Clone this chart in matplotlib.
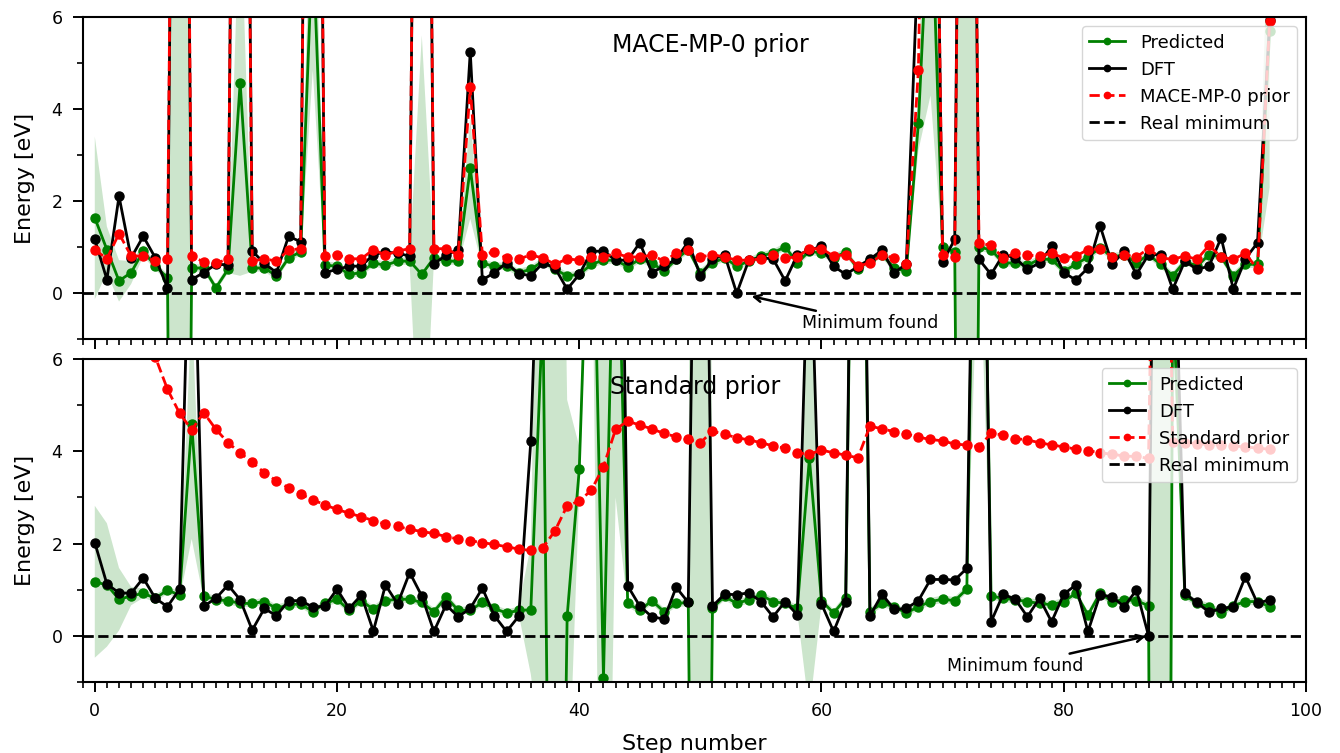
import matplotlib
matplotlib.use("Agg")
import matplotlib.pyplot as plt
import numpy as np
from matplotlib.ticker import MultipleLocator

steps = np.arange(98)

# ---- top panel: MACE-MP-0 prior ----
pred_mace = [1.64, 0.95, 0.27, 0.45, 0.92, 0.59, 0.34, -30, 0.55, 0.55,
             0.12, 0.52, 4.58, 0.55, 0.55, 0.38, 0.77, 0.90, 7.7, 0.61,
             0.59, 0.41, 0.45, 0.66, 0.61, 0.70, 0.70, 0.41, 0.77, 0.70,
             0.70, 2.72, 0.65, 0.59, 0.59, 0.45, 0.52, 0.70, 0.52, 0.38,
             0.41, 0.63, 0.72, 0.72, 0.58, 0.74, 0.66, 0.48, 0.74, 0.95,
             0.45, 0.66, 0.77, 0.59, 0.70, 0.81, 0.88, 1.01, 0.66, 0.92,
             0.87, 0.77, 0.90, 0.53, 0.72, 0.84, 0.55, 0.48, 3.70, 9.2,
             1.01, 0.90, -30, 1.00, 0.95, 0.66, 0.66, 0.61, 0.74, 0.74,
             0.48, 0.63, 0.79, 0.99, 0.79, 0.84, 0.66, 0.84, 0.63, 0.38,
             0.70, 0.59, 0.84, 0.79, 0.38, 0.63, 0.63, 5.7]
std_mace = [1.77, 0.50, 0.45, 0.25, 0.12, 0.08, 0.08, 100, 0.08, 0.08,
            0.08, 0.08, 4.2, 0.08, 0.08, 0.08, 0.08, 0.08, 2.85, 0.08,
            0.08, 0.08, 0.08, 0.08, 0.08, 0.08, 0.08, 5.2, 0.08, 0.08,
            0.08, 1.1, 0.08, 0.08, 0.08, 0.08, 0.08, 0.08, 0.08, 0.08,
            0.08, 0.08, 0.08, 0.08, 0.08, 0.08, 0.08, 0.08, 0.08, 0.08,
            0.08, 0.08, 0.08, 0.08, 0.08, 0.08, 0.08, 0.08, 0.08, 0.08,
            0.08, 0.08, 0.08, 0.08, 0.08, 0.08, 0.08, 0.08, 0.6, 4.9,
            0.08, 0.08, 100, 0.08, 0.08, 0.08, 0.08, 0.08, 0.08, 0.08,
            0.08, 0.08, 0.08, 0.08, 0.08, 0.08, 0.08, 0.08, 0.08, 0.08,
            0.08, 0.08, 0.08, 0.08, 0.08, 0.08, 0.08, 3.4]
dft_mace = [1.17, 0.30, 2.11, 0.77, 1.24, 0.77, 0.12, 30, 0.30, 0.45,
            0.63, 0.62, 30, 0.92, 0.65, 0.45, 1.24, 1.12, 30, 0.45,
            0.52, 0.59, 0.59, 0.84, 0.90, 0.87, 0.81, 30, 0.64, 0.83,
            0.95, 5.25, 0.29, 0.45, 0.66, 0.43, 0.38, 0.66, 0.55, 0.09,
            0.41, 0.91, 0.92, 0.72, 0.72, 1.10, 0.45, 0.59, 0.74, 1.12,
            0.38, 0.74, 0.84, 0.00, 0.72, 0.77, 0.75, 0.27, 0.83, 0.94,
            1.02, 0.59, 0.41, 0.58, 0.74, 0.94, 0.45, 0.63, 7.5, 20,
            0.68, 1.17, 30, 0.74, 0.41, 0.84, 0.77, 0.52, 0.66, 1.02,
            0.45, 0.29, 0.55, 1.47, 0.63, 0.92, 0.41, 0.84, 0.84, 0.09,
            0.70, 0.52, 0.59, 1.21, 0.09, 0.75, 1.10, 5.95]
prior_mace = [0.95, 0.75, 1.30, 0.81, 0.81, 0.70, 0.74, 30, 0.81, 0.68,
              0.65, 0.75, 30, 0.70, 0.75, 0.70, 0.94, 0.97, 30, 0.81,
              0.84, 0.75, 0.75, 0.95, 0.83, 0.92, 0.97, 30, 0.97, 0.97,
              0.83, 4.48, 0.84, 0.90, 0.77, 0.75, 0.83, 0.77, 0.63, 0.75,
              0.72, 0.79, 0.79, 0.87, 0.79, 0.79, 0.83, 0.70, 0.87, 0.95,
              0.79, 0.84, 0.79, 0.72, 0.72, 0.75, 0.83, 0.77, 0.79, 0.97,
              0.97, 0.81, 0.84, 0.59, 0.66, 0.83, 0.77, 0.63, 4.85, 20,
              0.83, 0.79, 30, 1.10, 1.04, 0.77, 0.87, 0.83, 0.81, 0.87,
              0.77, 0.81, 0.95, 0.97, 0.79, 0.84, 0.79, 0.97, 0.77, 0.74,
              0.81, 0.74, 1.04, 0.79, 0.74, 0.87, 0.52, 5.93]

# ---- bottom panel: standard prior ----
pred_std = [1.17, 1.10, 0.79, 0.86, 0.92, 0.81, 0.99, 0.88, 4.60, 0.86,
            0.78, 0.76, 0.70, 0.70, 0.74, 0.59, 0.67, 0.69, 0.52, 0.70,
            0.79, 0.55, 0.76, 0.57, 0.76, 0.79, 0.79, 0.72, 0.52, 0.84,
            0.55, 0.55, 0.72, 0.59, 0.49, 0.55, 0.56, 7.1, -18, 0.42,
            3.61, 11.5, -0.93, 11, 0.70, 0.55, 0.76, 0.52, 0.70, 0.72,
            -25, 0.60, 0.85, 0.70, 0.78, 0.88, 0.74, 0.70, 0.59, 3.85,
            0.76, 0.49, 0.81, 20, 0.52, 0.70, 0.63, 0.49, 0.63, 0.74,
            0.79, 0.76, 1.01, 17, 0.86, 0.81, 0.78, 0.74, 0.70, 0.67,
            0.74, 0.92, 0.45, 0.92, 0.74, 0.78, 0.76, 0.65, -50, 7.5,
            0.88, 0.70, 0.63, 0.49, 0.65, 0.74, 0.74, 0.63]
std_std = [1.65, 1.34, 0.68, 0.20, 0.10, 0.08, 0.08, 0.08, 2.5, 0.08,
           0.08, 0.08, 0.08, 0.08, 0.08, 0.08, 0.08, 0.08, 0.08, 0.08,
           0.08, 0.08, 0.08, 0.08, 0.08, 0.08, 0.08, 0.08, 0.08, 0.08,
           0.08, 0.08, 0.08, 0.08, 0.08, 0.08, 1.4, 10, 40, 4.7,
           0.5, 1.0, 12, 8, 0.08, 0.08, 0.08, 0.08, 0.08, 0.08,
           100, 0.08, 0.08, 0.08, 0.08, 0.08, 0.08, 0.08, 0.08, 5.5,
           0.08, 0.08, 0.08, 3, 0.08, 0.08, 0.08, 0.08, 0.08, 0.08,
           0.08, 0.08, 0.08, 8, 0.08, 0.08, 0.08, 0.08, 0.08, 0.08,
           0.08, 0.08, 0.08, 0.08, 0.08, 0.08, 0.08, 0.08, 200, 1.0,
           0.08, 0.08, 0.08, 0.08, 0.08, 0.08, 0.08, 0.08]
dft_std = [2.02, 1.12, 0.93, 0.92, 1.25, 0.81, 0.63, 1.01, 11, 0.64,
           0.81, 1.10, 0.78, 0.12, 0.59, 0.43, 0.76, 0.76, 0.62, 0.64,
           1.01, 0.59, 0.88, 0.10, 1.10, 0.69, 1.37, 0.86, 0.09, 0.67,
           0.41, 0.59, 1.03, 0.43, 0.09, 0.42, 4.23, 12, 20, 20,
           20, 20, 20, 20, 1.08, 0.64, 0.41, 0.36, 1.05, 0.72,
           20, 0.64, 0.90, 0.89, 0.93, 0.74, 0.41, 0.74, 0.45, 9.5,
           0.69, 0.09, 0.74, 22, 0.43, 0.90, 0.57, 0.59, 0.76, 1.22,
           1.22, 1.21, 1.46, 18, 0.30, 0.90, 0.79, 0.41, 0.81, 0.30,
           0.90, 1.10, 0.09, 0.89, 0.84, 0.63, 0.99, 0.00, 25, 10.5,
           0.92, 0.72, 0.51, 0.59, 0.63, 1.28, 0.70, 0.78]
prior_std = [11.5, 9.8, 8.5, 7.6, 6.8, 6.05, 5.35, 4.83, 4.47, 4.84,
             4.48, 4.19, 3.97, 3.76, 3.54, 3.36, 3.21, 3.07, 2.95, 2.84,
             2.74, 2.66, 2.58, 2.50, 2.42, 2.37, 2.31, 2.26, 2.22, 2.15,
             2.10, 2.06, 2.02, 1.98, 1.93, 1.88, 1.85, 1.91, 2.28, 2.82,
             2.92, 3.16, 3.67, 4.48, 4.66, 4.57, 4.49, 4.39, 4.32, 4.26,
             4.19, 4.44, 4.37, 4.30, 4.25, 4.19, 4.12, 4.07, 3.97, 3.94,
             4.03, 3.97, 3.92, 3.86, 4.55, 4.49, 4.43, 4.38, 4.31, 4.26,
             4.23, 4.16, 4.14, 4.10, 4.39, 4.36, 4.28, 4.25, 4.19, 4.14,
             4.10, 4.05, 4.02, 3.97, 3.94, 3.90, 3.89, 3.85, 20, 4.21,
             4.19, 4.17, 4.15, 4.14, 4.12, 4.10, 4.07, 4.05]

panels = [
    dict(pred=pred_mace, std=std_mace, dft=dft_mace, prior=prior_mace,
         name="MACE-MP-0 prior", title_x=50.8,
         text_xy=(64.05, -0.65), arrow_xy=(54.0, -0.05)),
    dict(pred=pred_std, std=std_std, dft=dft_std, prior=prior_std,
         name="Standard prior", title_x=49.6,
         text_xy=(76.0, -0.66), arrow_xy=(87.0, 0.0)),
]

fig = plt.figure(figsize=(13.4, 7.53), dpi=100)
ax_top = fig.add_axes([0.0617, 0.5494, 0.9129, 0.4276])
ax_bot = fig.add_axes([0.0617, 0.0947, 0.9129, 0.4281])

for ax, p in zip([ax_top, ax_bot], panels):
    pred = np.array(p["pred"])
    std = np.array(p["std"])
    ax.fill_between(steps, pred - std, pred + std, color="green",
                    alpha=0.2, lw=0)
    ax.plot(steps, pred, "-o", color="green", lw=2.0, ms=6.5,
            label="Predicted")
    ax.plot(steps, p["dft"], "-o", color="black", lw=2.0, ms=6.5,
            label="DFT")
    ax.plot(steps, p["prior"], "--o", color="red", lw=2.0, ms=6.5,
            label=p["name"])
    ax.axhline(0, color="black", ls="--", lw=2, label="Real minimum")

    ax.text(p["title_x"], 5.4, p["name"], ha="center", va="center",
            fontsize=17)
    ax.annotate("Minimum found", xy=p["arrow_xy"], xytext=p["text_xy"],
                ha="center", va="center", fontsize=12.5,
                arrowprops=dict(arrowstyle="->", color="black", lw=1.8))

    ax.set_xlim(-1, 100)
    ax.set_ylim(-1, 6)
    ax.xaxis.set_major_locator(MultipleLocator(20))
    ax.xaxis.set_minor_locator(MultipleLocator(1))
    ax.yaxis.set_major_locator(MultipleLocator(2))
    ax.yaxis.set_minor_locator(MultipleLocator(1))
    ax.tick_params(which="major", length=7.5, width=1.4, pad=7,
                   labelsize=12.5)
    ax.tick_params(which="minor", length=4, width=1.2)
    for sp in ax.spines.values():
        sp.set_linewidth(1.5)
    ax.set_ylabel("Energy [eV]", fontsize=16, labelpad=12)
    ax.legend(loc="upper right", fontsize=13, markerscale=0.7)

ax_top.tick_params(labelbottom=False)
ax_bot.set_xlabel("Step number", fontsize=16, labelpad=10)

fig.savefig("out.png", dpi=100)
